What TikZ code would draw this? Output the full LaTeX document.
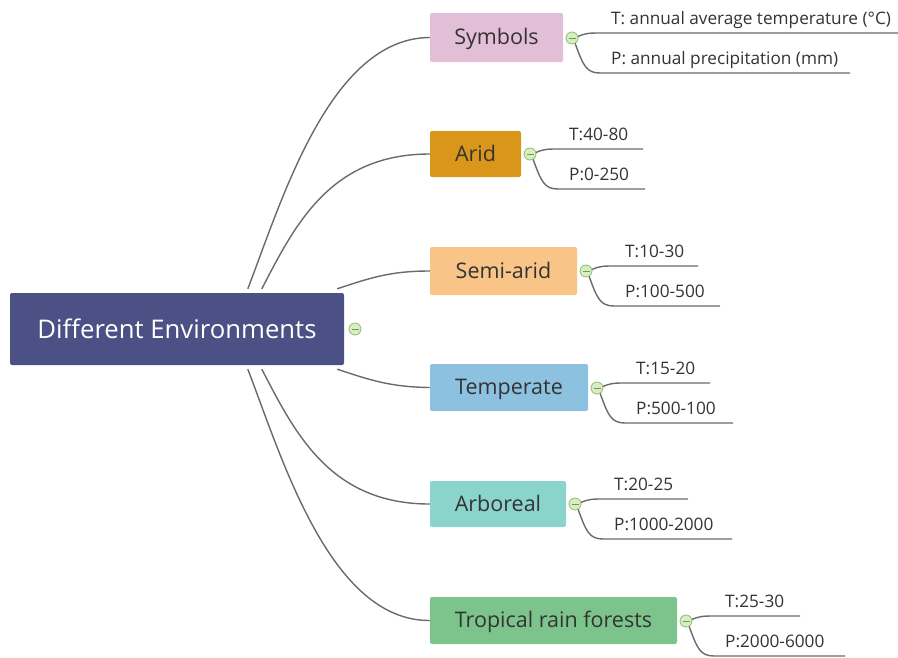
\documentclass[tikz,border=0pt]{standalone}
\usepackage{fontspec}
\setmainfont{Open Sans}
\usetikzlibrary{calc}
\definecolor{mainc}{HTML}{4B5085}
\definecolor{symc}{HTML}{E2BFD6}
\definecolor{aridc}{HTML}{D9961A}
\definecolor{semic}{HTML}{F8C488}
\definecolor{tempc}{HTML}{8CC1DF}
\definecolor{arbc}{HTML}{8AD4CC}
\definecolor{tropc}{HTML}{7DC48C}
\definecolor{linec}{HTML}{6A6A6A}
\definecolor{knobf}{HTML}{D8EDC4}
\definecolor{knobd}{HTML}{8DBE6A}
\begin{document}
\begin{tikzpicture}[x=1pt,y=-1pt,
  topic/.style={rounded corners=2pt, inner sep=0pt, font=\fontsize{21.5}{25}\selectfont, text=black!80, text height=14.5pt, text depth=0pt},
  conn/.style={draw=linec, line width=1.4pt},
  leaf/.style={anchor=base west, inner sep=0pt, font=\fontsize{17.2}{20}\selectfont, text=black!80},
  knob/.style={circle, draw=knobd, fill=knobf, minimum size=12pt, inner sep=0pt, line width=0.8pt},
  knobline/.style={draw=knobd!80!black, line width=0.8pt}]
\useasboundingbox (0,0) rectangle (898,657);

\node[rounded corners=2pt, inner sep=0pt, fill=mainc, text=white, minimum width=334pt, minimum height=72pt, font=\fontsize{25.7}{30}\selectfont, text height=18pt, text depth=0pt] (main) at (177,329) {Different Environments};
\node[knob] (mainK) at (355,329) {};
\draw[knobline] ([xshift=-3.5pt]mainK.center) -- ([xshift=3.5pt]mainK.center);

\node[topic, fill=symc,  minimum width=133pt, minimum height=49pt] (sym)  at (496.5,37.5) {Symbols};
\node[topic, fill=aridc, minimum width=91pt,  minimum height=46pt] (arid) at (475.5,154) {Arid};
\node[topic, fill=semic, minimum width=147pt, minimum height=48pt] (semi) at (503.5,271) {Semi-arid};
\node[topic, fill=tempc, minimum width=158pt, minimum height=47pt] (temp) at (509,387.5) {Temperate};
\node[topic, fill=arbc,  minimum width=136pt, minimum height=46pt] (arb)  at (498,504) {Arboreal};
\node[topic, fill=tropc, minimum width=247pt, minimum height=47pt] (trop) at (553.5,620.5) {Tropical rain forests};

\draw[conn] ($(main.north west)+(238,-4)$) .. controls (282,200) and (330,38) .. (sym.west);
\draw[conn] ($(main.north west)+(252,-4)$) .. controls (295,225) and (330,154) .. (arid.west);
\draw[conn] ($(main.north east)+(-7,-4)$) .. controls (370,278) and (390,271) .. (semi.west);
\draw[conn] ($(main.south east)+(-7,4)$) .. controls (370,380) and (390,387) .. (temp.west);
\draw[conn] ($(main.south west)+(252,4)$) .. controls (295,433) and (330,504) .. (arb.west);
\draw[conn] ($(main.south west)+(238,4)$) .. controls (282,458) and (330,621) .. (trop.west);

\foreach \n/\cx/\cy/\te/\pe/\tt/\pt in {
  sym/572/38/898/850/{T: annual average temperature (°C)}/{P: annual precipitation (mm)},
  arid/530/154/643/645/{T:40-80}/{P:0-250},
  semi/586/271/698/720/{T:10-30}/{P:100-500},
  temp/597/388/710/733/{T:15-20}/{P:500-100},
  arb/575/504/688/732/{T:20-25}/{P:1000-2000},
  trop/686/621/800/845/{T:25-30}/{P:2000-6000}}{
  \coordinate (\n Ta) at (\cx+28,\cy-5);
  \coordinate (\n Tb) at (\te,\cy-5);
  \coordinate (\n Pa) at (\cx+28,\cy+35);
  \coordinate (\n Pb) at (\pe,\cy+35);
  \draw[conn] (\cx+5,\cy-1) .. controls +(8,-4) and +(-10,0) .. (\n Ta) -- (\n Tb);
  \draw[conn] (\cx+3,\cy+5) .. controls +(8,22) and +(-14,0) .. (\n Pa) -- (\n Pb);
  \node[knob] (\n K) at (\cx,\cy) {};
  \draw[knobline] ([xshift=-3.5pt]\n K.center) -- ([xshift=3.5pt]\n K.center);
  \node[leaf] (\n Tl) at (\cx+39,\cy-14) {\tt};
  \node[leaf] (\n Pl) at (\cx+39,\cy+26) {\pt};
}
\end{tikzpicture}
\end{document}
